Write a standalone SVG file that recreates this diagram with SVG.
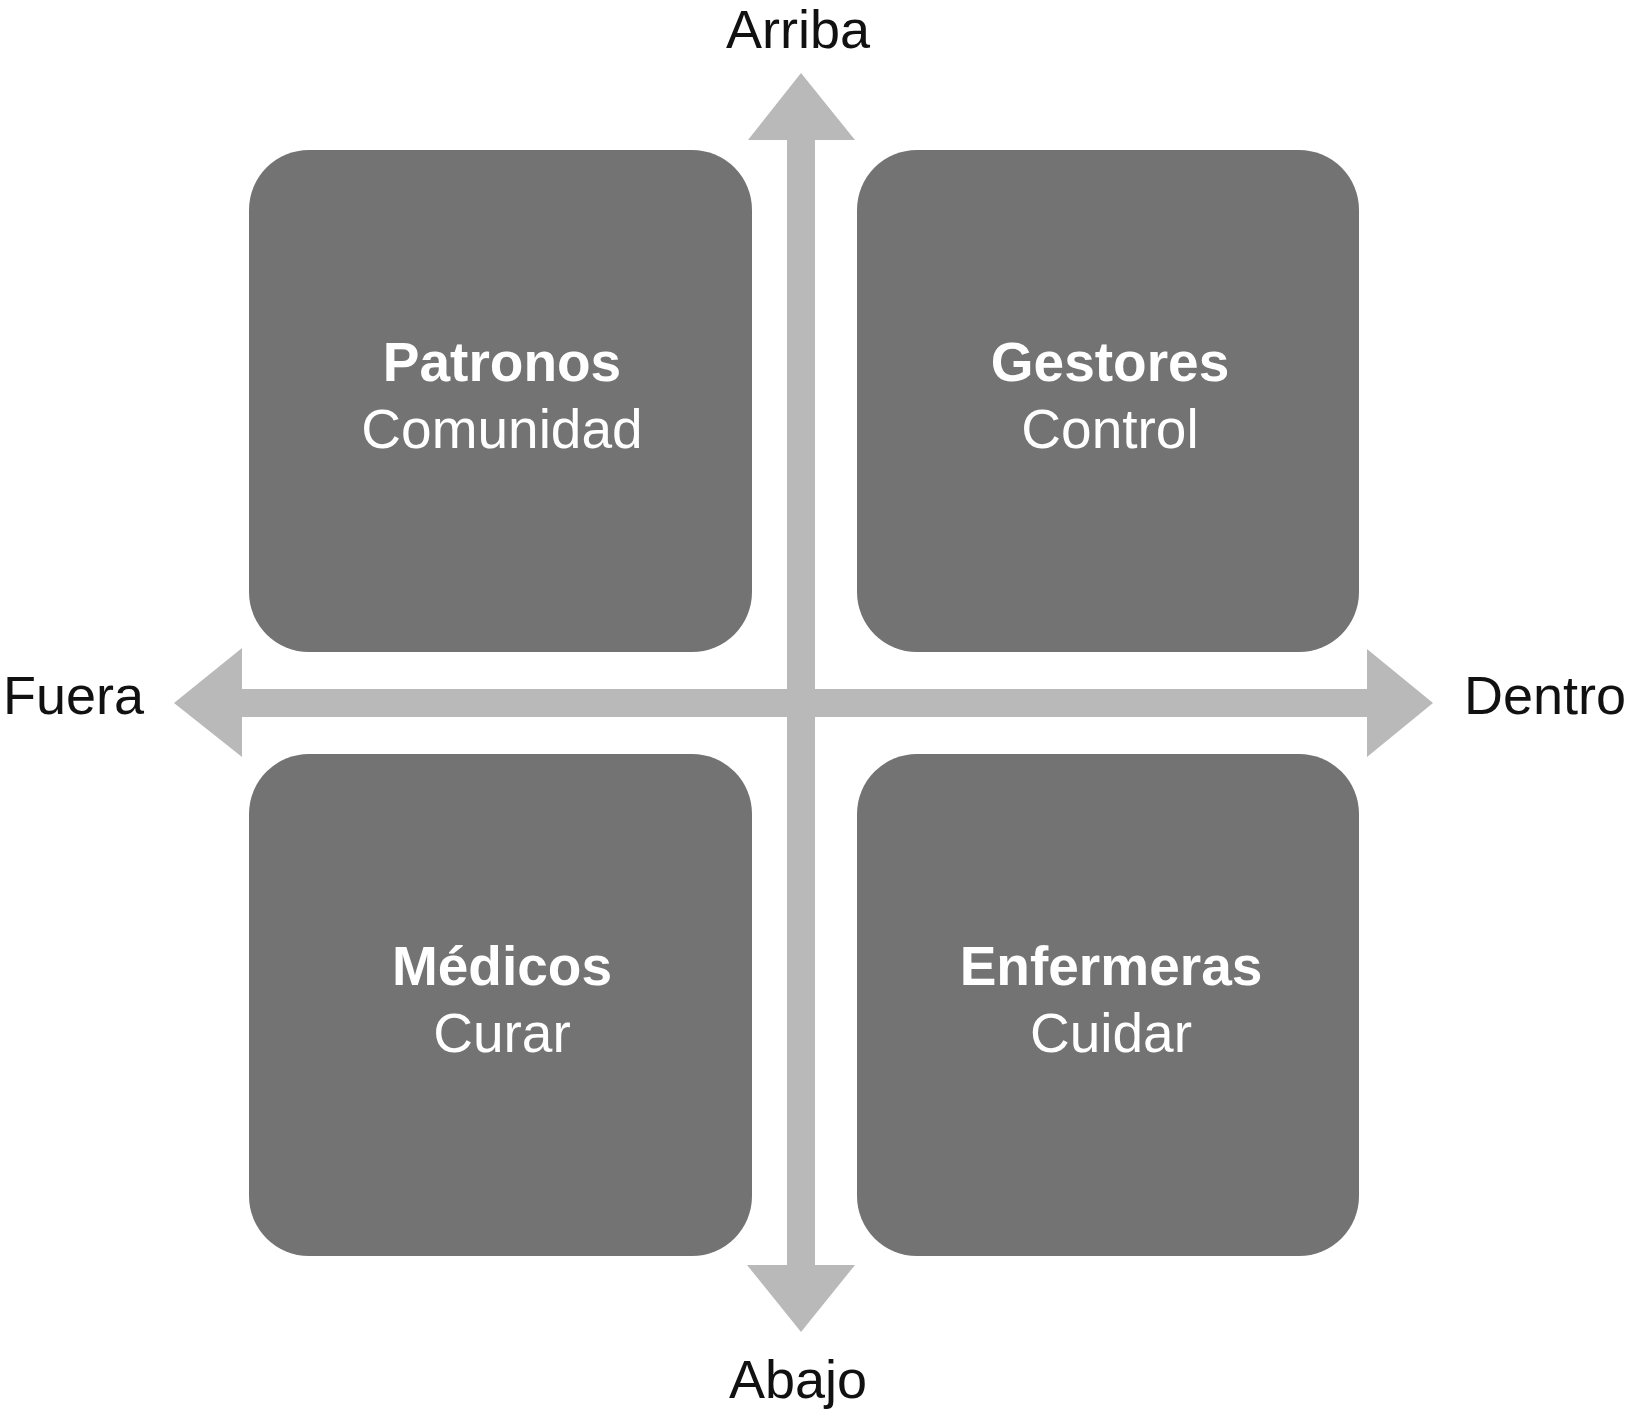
<svg xmlns="http://www.w3.org/2000/svg" width="1628" height="1418" viewBox="0 0 1628 1418">
<style>
.box{fill:#737373}
.arrow{fill:#b9b9b9}
.t{font-family:"Liberation Sans",Arial,sans-serif;font-size:55px;text-anchor:middle;fill:#ffffff}
.b{font-weight:bold}
.lbl{font-family:"Liberation Sans",Arial,sans-serif;font-size:54px;fill:#111111}
</style>
<rect width="1628" height="1418" fill="#ffffff"/>
<g id="connectors">
<polygon class="arrow" points="787,1265 787,140 748,140 801,73 855,140 815,140 815,1265 855,1265 801,1332 747,1265"/>
<polygon class="arrow" points="242,689 242,648 174,703 242,757 242,717 1367,717 1367,757 1433,703 1367,649 1367,689"/>
</g>
<g id="patronos">
<rect class="box" x="249" y="150" width="503" height="502" rx="60" ry="60"/>
<text class="t b" x="502" y="381">Patronos</text>
<text class="t" x="502" y="448">Comunidad</text>
</g>
<g id="gestores">
<rect class="box" x="857" y="150" width="502" height="502" rx="60" ry="60"/>
<text class="t b" x="1110" y="381">Gestores</text>
<text class="t" x="1110" y="448">Control</text>
</g>
<g id="medicos">
<rect class="box" x="249" y="754" width="503" height="502" rx="60" ry="60"/>
<text class="t b" x="502" y="985">Médicos</text>
<text class="t" x="502" y="1052">Curar</text>
</g>
<g id="enfermeras">
<rect class="box" x="857" y="754" width="502" height="502" rx="60" ry="60"/>
<text class="t b" x="1111" y="985">Enfermeras</text>
<text class="t" x="1111" y="1052">Cuidar</text>
</g>
<g id="arriba"><text class="lbl" x="798" y="48" text-anchor="middle">Arriba</text></g>
<g id="abajo"><text class="lbl" x="798" y="1398" text-anchor="middle">Abajo</text></g>
<g id="fuera"><text class="lbl" x="3" y="714">Fuera</text></g>
<g id="dentro"><text class="lbl" x="1464" y="714">Dentro</text></g>
</svg>
